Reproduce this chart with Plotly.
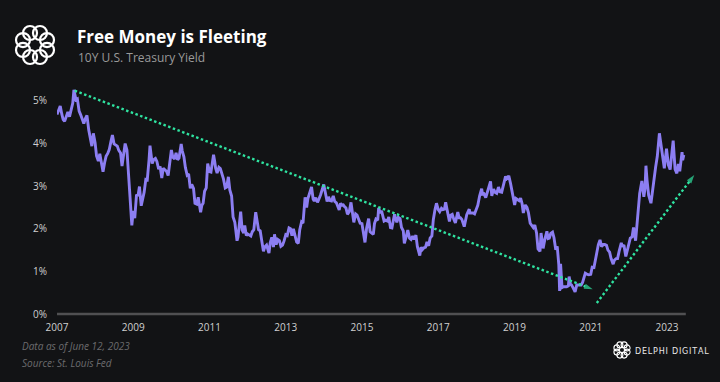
import plotly.graph_objects as go
import math

# ---------------- data ----------------
dates = [
    "2007-01-01","2007-01-15","2007-02-01","2007-02-15","2007-03-01","2007-03-15","2007-04-01","2007-04-15",
    "2007-05-01","2007-05-15","2007-06-01","2007-06-12","2007-06-20","2007-07-01","2007-07-15","2007-08-01","2007-08-15",
    "2007-09-01","2007-09-15","2007-10-01","2007-10-15","2007-11-01","2007-11-15","2007-12-01","2007-12-15",
    "2008-01-01","2008-01-15","2008-02-01","2008-02-15","2008-03-01","2008-03-17","2008-04-01","2008-04-15",
    "2008-05-01","2008-05-15","2008-06-01","2008-06-15","2008-07-01","2008-07-15","2008-08-01","2008-08-15",
    "2008-09-01","2008-09-15","2008-10-01","2008-10-15","2008-11-01","2008-11-15","2008-12-01","2008-12-18",
    "2009-01-01","2009-01-15","2009-02-01","2009-02-15","2009-03-01","2009-03-18","2009-04-01","2009-04-15",
    "2009-05-01","2009-05-15","2009-06-01","2009-06-10","2009-06-20","2009-07-01","2009-07-15","2009-08-01","2009-08-15",
    "2009-09-01","2009-09-15","2009-10-01","2009-10-15","2009-11-01","2009-11-15","2009-12-01","2009-12-15",
    "2010-01-01","2010-01-15","2010-02-01","2010-02-15","2010-03-01","2010-03-15","2010-04-05","2010-04-15",
    "2010-05-01","2010-05-15","2010-06-01","2010-06-15","2010-07-01","2010-07-15","2010-08-01","2010-08-15",
    "2010-09-01","2010-09-15","2010-10-08","2010-10-20","2010-11-01","2010-11-15","2010-12-01","2010-12-15",
    "2011-01-01","2011-01-15","2011-02-09","2011-02-20","2011-03-01","2011-03-15","2011-04-01","2011-04-15",
    "2011-05-01","2011-05-15","2011-06-01","2011-06-15","2011-07-01","2011-07-15","2011-08-01","2011-08-15",
    "2011-09-01","2011-09-22","2011-10-01","2011-10-27","2011-11-10","2011-11-25","2011-12-05","2011-12-20",
    "2012-01-01","2012-01-15","2012-02-01","2012-02-15","2012-03-01","2012-03-19","2012-04-01","2012-04-15",
    "2012-05-01","2012-05-15","2012-06-01","2012-06-15","2012-07-01","2012-07-24","2012-08-05","2012-08-20",
    "2012-09-05","2012-09-15","2012-10-01","2012-10-15","2012-11-01","2012-11-15","2012-12-01","2012-12-15",
    "2013-01-01","2013-01-15","2013-02-01","2013-02-15","2013-03-01","2013-03-15","2013-04-01","2013-04-15",
    "2013-05-01","2013-05-15","2013-06-01","2013-06-15","2013-07-05","2013-07-20","2013-08-01","2013-08-15",
    "2013-09-05","2013-09-20","2013-10-01","2013-10-15","2013-11-01","2013-11-15","2013-12-01","2013-12-31",
    "2014-01-15","2014-02-01","2014-02-15","2014-03-01","2014-03-15","2014-04-01","2014-04-15",
    "2014-05-01","2014-05-28","2014-06-10","2014-06-25","2014-07-01","2014-07-15","2014-08-01","2014-08-15",
    "2014-09-01","2014-09-18","2014-10-01","2014-10-15","2014-11-01","2014-11-15","2014-12-01","2014-12-15",
    "2015-01-01","2015-01-30","2015-02-15","2015-03-06","2015-03-20","2015-04-05","2015-04-20",
    "2015-05-01","2015-05-15","2015-06-01","2015-06-10","2015-06-25","2015-07-08","2015-07-15","2015-08-01","2015-08-15",
    "2015-09-01","2015-09-15","2015-10-01","2015-10-15","2015-11-01","2015-11-09","2015-12-01","2015-12-15",
    "2016-01-01","2016-01-15","2016-02-01","2016-02-11","2016-03-01","2016-03-15","2016-04-01","2016-04-15",
    "2016-05-01","2016-05-15","2016-06-01","2016-06-15","2016-07-08","2016-07-20","2016-08-01","2016-08-15",
    "2016-09-01","2016-09-15","2016-10-01","2016-10-15","2016-11-01","2016-11-15","2016-12-01","2016-12-15",
    "2017-01-01","2017-01-15","2017-02-01","2017-02-15","2017-03-01","2017-03-13","2017-04-01","2017-04-18",
    "2017-05-01","2017-05-15","2017-06-01","2017-06-14","2017-07-07","2017-07-20","2017-08-01","2017-08-15",
    "2017-09-07","2017-09-20","2017-10-01","2017-10-25","2017-11-01","2017-11-15","2017-12-01","2017-12-15",
    "2018-01-01","2018-01-15","2018-02-01","2018-02-21","2018-03-01","2018-03-15","2018-04-01","2018-04-15",
    "2018-05-01","2018-05-17","2018-05-29","2018-06-15","2018-07-01","2018-07-15","2018-08-01","2018-08-15",
    "2018-09-01","2018-09-15","2018-10-01","2018-10-08","2018-10-20","2018-11-08","2018-11-25","2018-12-05","2018-12-20",
    "2019-01-03","2019-01-15","2019-02-01","2019-02-15","2019-03-01","2019-03-15","2019-03-27","2019-04-15",
    "2019-05-01","2019-05-15","2019-06-01","2019-06-15","2019-07-01","2019-07-15","2019-08-01","2019-08-15",
    "2019-09-03","2019-09-13","2019-10-03","2019-10-20","2019-11-08","2019-11-20","2019-12-01","2019-12-15",
    "2020-01-01","2020-01-15","2020-02-01","2020-02-15","2020-03-01","2020-03-09","2020-03-18","2020-04-01","2020-04-15",
    "2020-05-01","2020-05-15","2020-06-01","2020-06-08","2020-06-20","2020-07-01","2020-07-15","2020-08-04","2020-08-20",
    "2020-09-01","2020-09-15","2020-10-01","2020-10-15","2020-11-01","2020-11-10","2020-12-01","2020-12-15",
    "2021-01-01","2021-01-15","2021-02-01","2021-02-15","2021-03-01","2021-03-15","2021-03-31","2021-04-15",
    "2021-05-01","2021-05-15","2021-06-01","2021-06-15","2021-07-01","2021-07-15","2021-08-04","2021-08-15",
    "2021-09-01","2021-09-15","2021-10-01","2021-10-21","2021-11-01","2021-11-15","2021-12-03","2021-12-15",
    "2022-01-01","2022-01-15","2022-02-01","2022-02-15","2022-03-07","2022-03-20","2022-04-01","2022-04-15",
    "2022-05-06","2022-05-25","2022-06-05","2022-06-14","2022-06-25","2022-07-10","2022-08-01","2022-08-15",
    "2022-09-01","2022-09-15","2022-10-01","2022-10-21","2022-11-01","2022-11-15","2022-12-07","2022-12-28",
    "2023-01-15","2023-02-01","2023-02-15","2023-03-02","2023-03-20","2023-04-06","2023-04-20",
    "2023-05-04","2023-05-26","2023-06-01","2023-06-12",
]
yields = [
    4.68,4.78,4.88,4.70,4.56,4.52,4.65,4.74,
    4.63,4.75,4.95,5.26,5.12,5.03,5.05,4.76,4.68,
    4.53,4.47,4.59,4.66,4.32,4.16,3.94,4.24,
    4.02,3.71,3.59,3.76,3.53,3.34,3.55,3.70,
    3.77,3.85,4.05,4.20,3.99,3.96,3.94,3.84,
    3.78,3.47,3.77,4.00,3.85,3.40,2.73,2.08,
    2.42,2.25,2.80,2.77,2.99,2.54,2.68,2.86,
    3.16,3.15,3.62,3.95,3.75,3.53,3.62,3.65,3.58,
    3.40,3.46,3.19,3.42,3.39,3.35,3.25,3.60,
    3.85,3.68,3.64,3.78,3.62,3.66,3.99,3.83,
    3.69,3.44,3.26,3.29,2.95,3.04,2.95,2.60,
    2.58,2.74,2.39,2.55,2.60,2.88,2.96,3.53,
    3.34,3.33,3.74,3.58,3.42,3.31,3.44,3.41,
    3.29,3.17,2.96,2.98,3.22,2.91,2.77,2.28,
    2.15,1.72,1.80,2.40,1.97,1.90,2.08,1.84,
    1.88,1.86,1.83,1.93,1.98,2.39,2.21,1.98,
    1.95,1.76,1.47,1.58,1.62,1.43,1.67,1.80,
    1.57,1.87,1.63,1.75,1.72,1.59,1.62,1.71,
    1.86,1.84,2.02,2.00,1.84,2.00,1.86,1.69,
    1.66,1.98,2.16,2.13,2.74,2.50,2.71,2.83,
    2.98,2.70,2.65,2.73,2.62,2.70,2.80,3.04,
    2.85,2.64,2.75,2.66,2.65,2.77,2.64,
    2.61,2.44,2.60,2.53,2.58,2.53,2.49,2.34,
    2.40,2.62,2.40,2.15,2.35,2.32,2.22,2.13,
    2.12,1.68,2.02,2.24,1.93,1.90,1.87,
    2.12,2.23,2.20,2.49,2.37,2.42,2.35,2.18,2.20,
    2.18,2.28,2.03,2.02,2.20,2.34,2.15,2.27,
    2.24,2.03,1.95,1.66,1.83,1.97,1.78,1.75,
    1.83,1.75,1.85,1.58,1.37,1.57,1.51,1.55,
    1.57,1.69,1.60,1.78,1.83,2.22,2.45,2.60,
    2.45,2.40,2.48,2.45,2.46,2.62,2.38,2.17,
    2.32,2.34,2.21,2.14,2.39,2.26,2.26,2.22,
    2.05,2.26,2.33,2.46,2.37,2.37,2.37,2.35,
    2.46,2.55,2.77,2.94,2.81,2.82,2.73,2.83,
    2.97,3.11,2.77,2.93,2.85,2.83,2.98,2.87,
    2.86,3.00,3.09,3.23,3.18,3.24,3.06,2.91,2.79,
    2.56,2.71,2.69,2.66,2.72,2.59,2.37,2.56,
    2.50,2.38,2.13,2.09,2.03,2.09,1.90,1.53,
    1.47,1.90,1.54,1.76,1.94,1.77,1.78,1.89,
    1.92,1.79,1.51,1.59,1.16,0.54,1.18,0.62,0.64,
    0.64,0.64,0.66,0.88,0.70,0.68,0.62,0.52,0.68,
    0.68,0.68,0.68,0.74,0.87,0.96,0.93,0.92,
    0.93,1.10,1.09,1.30,1.42,1.63,1.74,1.58,
    1.63,1.63,1.61,1.50,1.45,1.30,1.17,1.26,
    1.30,1.30,1.48,1.67,1.58,1.62,1.35,1.46,
    1.63,1.78,1.81,2.03,1.72,2.15,2.39,2.83,
    3.12,2.75,2.94,3.48,3.13,2.79,2.60,2.88,
    3.26,3.45,3.70,4.24,4.05,3.80,3.42,3.88,
    3.50,3.39,3.80,4.07,3.40,3.30,3.52,
    3.35,3.80,3.61,3.73,
]

y_ticks = [0, 1, 2, 3, 4, 5]
x_tick_years = [2007, 2009, 2011, 2013, 2015, 2017, 2019, 2021, 2023]

# trend arrows (start, end)
arrow_down_x = ["2007-06-20", "2021-01-20"]
arrow_down_y = [5.24, 0.58]
arrow_up_x = ["2021-02-28", "2023-09-20"]
arrow_up_y = [0.26, 3.26]

title = "Free Money is Fleeting"
subtitle = "10Y U.S. Treasury Yield"
footer_1 = "Data as of June 12, 2023"
footer_2 = "Source: St. Louis Fed"
brand = "DELPHI DIGITAL"

# ---------------- styling ----------------
BG = "#121315"
LINE = "#8c7ef2"
GREEN = "#2fe3a0"
W, H = 720, 382
ML, MR, MT, MB = 57, 20, 86, 62
PW, PH = W - ML - MR, H - MT - MB

def px(x):  # pixel -> paper x
    return (x - ML) / PW

def py(y):  # pixel -> paper y
    return 1 - (y - MT) / PH

fig = go.Figure()

fig.add_trace(go.Scatter(
    x=dates, y=yields, mode="lines",
    line=dict(color=LINE, width=2.9),
    hoverinfo="skip", showlegend=False,
))

for ax, ay in [(arrow_down_x, arrow_down_y), (arrow_up_x, arrow_up_y)]:
    fig.add_trace(go.Scatter(
        x=ax, y=ay, mode="lines+markers",
        line=dict(color=GREEN, width=2.4, dash="2.5px,2.5px"),
        marker=dict(symbol="arrow", size=[0, 9], color=GREEN, angleref="previous",
                    line=dict(width=0)),
        hoverinfo="skip", showlegend=False,
    ))

shapes = []
# zero baseline
shapes.append(dict(type="line", xref="x", yref="y", x0="2007-01-01", x1="2023-07-01",
                   y0=0, y1=0, line=dict(color="#505052", width=2.5), layer="below"))

# top-left logo: interwoven ring approximated by looped circles
cx, cy, R, r = 35, 45, 13.0, 7.0
for k in range(8):
    a = 2 * math.pi * k / 8 + math.pi / 8
    x0 = cx + R * math.cos(a)
    y0 = cy - R * math.sin(a)
    shapes.append(dict(type="circle", xref="paper", yref="paper",
                       x0=px(x0 - r), x1=px(x0 + r), y0=py(y0 + r), y1=py(y0 - r),
                       line=dict(color="white", width=2.2)))
# small brand logo bottom-right
cx2, cy2, R2, r2 = 622, 350, 5.5, 3.0
for k in range(8):
    a = 2 * math.pi * k / 8 + math.pi / 8
    x0 = cx2 + R2 * math.cos(a)
    y0 = cy2 - R2 * math.sin(a)
    shapes.append(dict(type="circle", xref="paper", yref="paper",
                       x0=px(x0 - r2), x1=px(x0 + r2), y0=py(y0 + r2), y1=py(y0 - r2),
                       line=dict(color="white", width=1.1)))

annotations = [
    dict(text=f"<b>{title}</b>", x=px(75), y=py(36), xref="paper", yref="paper",
         xanchor="left", yanchor="middle", showarrow=False,
         font=dict(family="Open Sans", size=17, color="white")),
    dict(text=subtitle, x=px(76), y=py(57), xref="paper", yref="paper",
         xanchor="left", yanchor="middle", showarrow=False,
         font=dict(family="Open Sans", size=12, color="#9a9a9a")),
    dict(text=f"<i>{footer_1}</i>", x=px(20), y=py(346), xref="paper", yref="paper",
         xanchor="left", yanchor="middle", showarrow=False,
         font=dict(family="Open Sans", size=10, color="#6c6c6e")),
    dict(text=f"<i>{footer_2}</i>", x=px(20), y=py(363), xref="paper", yref="paper",
         xanchor="left", yanchor="middle", showarrow=False,
         font=dict(family="Open Sans", size=10, color="#6c6c6e")),
    dict(text="\u200a".join(brand), x=px(633), y=py(351), xref="paper", yref="paper",
         xanchor="left", yanchor="middle", showarrow=False,
         font=dict(family="DejaVu Sans", size=8, color="#e8e8e8")),
]

fig.update_layout(
    width=W, height=H,
    margin=dict(l=ML, r=MR, t=MT, b=MB),
    paper_bgcolor=BG, plot_bgcolor=BG,
    shapes=shapes, annotations=annotations,
    showlegend=False,
    xaxis=dict(
        range=["2007-01-01", "2023-11-14"],
        tickvals=[f"{y}-01-01" for y in x_tick_years],
        ticktext=[str(y) for y in x_tick_years],
        showgrid=False, zeroline=False, showline=False, ticks="",
        tickfont=dict(family="Open Sans", size=10, color="#d0d0d0"),
        ticklabelstandoff=0,
    ),
    yaxis=dict(
        range=[-0.14, 5.35],
        tickvals=y_ticks,
        ticktext=[f"{v}%" for v in y_ticks],
        showgrid=False, zeroline=False, showline=False, ticks="",
        tickfont=dict(family="Open Sans", size=10, color="#d0d0d0"),
        ticklabelstandoff=9,
    ),
)

fig.write_html(
    "out.html",
    config={"displayModeBar": False, "staticPlot": True},
    post_script="document.body.style.margin='0';document.body.style.background='#121315';",
)
